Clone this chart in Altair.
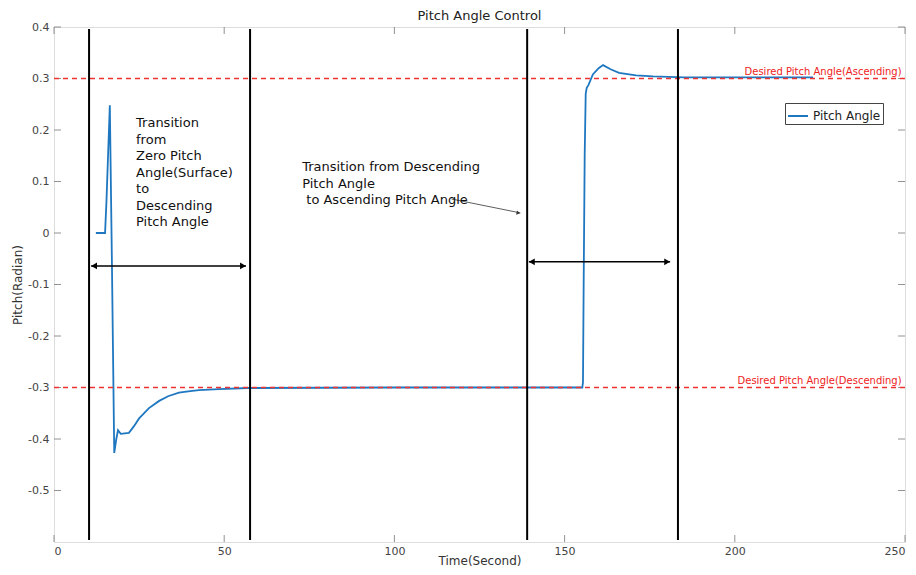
import altair as alt
import pandas as pd

# ---- data ----
time = [12.3, 15.0, 15.4, 16.4, 17.0, 17.7, 18.3, 18.8, 19.6, 20.8, 22.0, 23.5, 25.0,
        27.9, 30.9, 33.5, 36.7, 40.0, 42.6, 48.5, 57.0, 100.0, 155.2, 155.4, 155.6,
        155.9, 156.2, 156.5, 157.0, 158.3, 160.0, 161.3, 163.5, 166.0, 171.0, 176.0,
        185.0, 200.0, 223.0]
pitch = [0.0, 0.0, 0.06, 0.248, -0.05, -0.427, -0.40, -0.383, -0.39, -0.389, -0.388,
         -0.375, -0.360, -0.340, -0.326, -0.317, -0.310, -0.307, -0.305, -0.303, -0.301,
         -0.300, -0.300, -0.290, -0.10, 0.15, 0.270, 0.282, 0.287, 0.308, 0.320, 0.326,
         0.318, 0.311, 0.306, 0.304, 0.302, 0.302, 0.302]

desired_values = [0.3, -0.3]
desired_labels = ["Desired Pitch Angle(Ascending)", "Desired Pitch Angle(Descending)"]

boundary_times = [10.3, 57.6, 139.0, 183.3]
boundary_top = [0.396, 0.396, 0.396, 0.396]
boundary_bottom = [-0.596, -0.596, -0.596, -0.596]

arrow_y = [-0.064, -0.056]
arrow_start = [10.9, 139.5]
arrow_end = [56.4, 181.0]

note_texts = [
    "Transition\nfrom\nZero Pitch\nAngle(Surface)\nto\nDescending\nPitch Angle",
    "Transition from Descending\nPitch Angle\n\u200b to Ascending Pitch Angle",
]
note_x = [24.1, 72.9]
note_y = [0.225, 0.1398]

pointer_x = [116.8]
pointer_y = [0.066]
pointer_x2 = [137.0]
pointer_y2 = [0.039]

x_ticks = [0, 50, 100, 150, 200, 250]
y_ticks = [-0.5, -0.4, -0.3, -0.2, -0.1, 0, 0.1, 0.2, 0.3, 0.4]

W, H = 851, 515
FONT = "DejaVu Sans"

xs = alt.Scale(domain=[0, 250], nice=False, zero=False)
ys = alt.Scale(domain=[-0.6, 0.4], nice=False, zero=False)

curve_df = pd.DataFrame({"t": time, "p": pitch, "series": ["Pitch Angle"] * len(time)})
desired_df = pd.DataFrame({"v": desired_values, "label": desired_labels, "xl": [249.0, 249.0]})
bound_df = pd.DataFrame({"t": boundary_times, "top": boundary_top, "bot": boundary_bottom})
arrow_df = pd.DataFrame({"y": arrow_y, "x1": arrow_start, "x2": arrow_end})
note_df = pd.DataFrame({"text": note_texts, "x": note_x, "y": note_y})
pointer_df = pd.DataFrame({"x": pointer_x, "y": pointer_y, "x2": pointer_x2, "y2": pointer_y2})
xt_df = pd.DataFrame({"v": x_ticks})
yt_df = pd.DataFrame({"v": y_ticks})

x_axis = alt.Axis(values=x_ticks, grid=False, ticks=False, domain=False, labelPadding=3,
                  labelFontSize=11, labelColor="#444", labelFont=FONT,
                  title="Time(Second)", titleFontSize=12, titleFontWeight="normal",
                  titleColor="#333", titleFont=FONT, titleY=22, titleBaseline="alphabetic")
y_axis = alt.Axis(values=y_ticks, grid=False, ticks=False, domain=False, labelPadding=5,
                  labelFontSize=11, labelColor="#444", labelFont=FONT,
                  labelExpr="'' + datum.value",
                  title="Pitch(Radian)", titleFontSize=12, titleFontWeight="normal",
                  titleColor="#333", titleFont=FONT, titlePadding=3)

curve = alt.Chart(curve_df).mark_line(strokeWidth=1.8).encode(
    x=alt.X("t:Q", scale=xs, axis=x_axis),
    y=alt.Y("p:Q", scale=ys, axis=y_axis),
    color=alt.Color("series:N", scale=alt.Scale(range=["#1f77c0"]),
                    legend=alt.Legend(orient="none", legendX=731, legendY=76, title=None,
                                      strokeColor="#444", fillColor="white", padding=2,
                                      symbolType="stroke", symbolStrokeWidth=2,
                                      symbolSize=400, labelFontSize=12, labelFont=FONT,
                                      labelColor="#222", labelOffset=4)),
)

desired = alt.Chart(desired_df).mark_rule(color="#ee3333", strokeDash=[5, 4], strokeWidth=1.3).encode(
    y=alt.Y("v:Q", scale=ys),
)
desired_text = alt.Chart(desired_df).mark_text(
    color="#ee2222", fontSize=10, font=FONT, align="right", baseline="bottom", dy=-2
).encode(
    x=alt.X("xl:Q", scale=xs),
    y=alt.Y("v:Q", scale=ys),
    text="label:N",
)

bounds = alt.Chart(bound_df).mark_rule(color="black", strokeWidth=2).encode(
    x=alt.X("t:Q", scale=xs),
    y=alt.Y("top:Q", scale=ys),
    y2="bot:Q",
)

arrows = alt.Chart(arrow_df).mark_rule(color="black", strokeWidth=1.5).encode(
    x=alt.X("x1:Q", scale=xs),
    x2="x2:Q",
    y=alt.Y("y:Q", scale=ys),
)
head_left = alt.Chart(arrow_df).mark_point(shape="triangle-left", filled=True, color="black",
                                           size=45, opacity=1, xOffset=3).encode(
    x=alt.X("x1:Q", scale=xs),
    y=alt.Y("y:Q", scale=ys),
)
head_right = alt.Chart(arrow_df).mark_point(shape="triangle-right", filled=True, color="black",
                                            size=45, opacity=1, xOffset=-3).encode(
    x=alt.X("x2:Q", scale=xs),
    y=alt.Y("y:Q", scale=ys),
)

notes = alt.Chart(note_df).mark_text(
    align="left", baseline="top", fontSize=13, font=FONT, color="#111", lineHeight=16.5,
    lineBreak="\n"
).encode(
    x=alt.X("x:Q", scale=xs),
    y=alt.Y("y:Q", scale=ys),
    text="text:N",
)

pointer = alt.Chart(pointer_df).mark_rule(color="#333", strokeWidth=0.8).encode(
    x=alt.X("x:Q", scale=xs),
    x2="x2:Q",
    y=alt.Y("y:Q", scale=ys),
    y2="y2:Q",
)
pointer_head = alt.Chart(pointer_df).mark_point(shape="triangle-right", filled=True, color="#333",
                                                size=18, angle=11, opacity=1, xOffset=-2).encode(
    x=alt.X("x2:Q", scale=xs),
    y=alt.Y("y2:Q", scale=ys),
)

tick_color = "#777"
xt_bottom = alt.Chart(xt_df).mark_rule(color=tick_color, strokeWidth=0.8).encode(
    x=alt.X("v:Q", scale=xs), y=alt.value(H), y2=alt.value(H - 7))
xt_top = alt.Chart(xt_df).mark_rule(color=tick_color, strokeWidth=0.8).encode(
    x=alt.X("v:Q", scale=xs), y=alt.value(0), y2=alt.value(7))
yt_left = alt.Chart(yt_df).mark_rule(color=tick_color, strokeWidth=0.8).encode(
    y=alt.Y("v:Q", scale=ys), x=alt.value(0), x2=alt.value(7))
yt_right = alt.Chart(yt_df).mark_rule(color=tick_color, strokeWidth=0.8).encode(
    y=alt.Y("v:Q", scale=ys), x=alt.value(W), x2=alt.value(W - 7))

chart = alt.layer(
    curve,
    xt_bottom, xt_top, yt_left, yt_right,
    desired, bounds, arrows, head_left, head_right, pointer, pointer_head,
    desired_text, notes,
).properties(
    width=W, height=H,
    title=alt.Title("Pitch Angle Control", fontSize=13, fontWeight="normal", font=FONT,
                    color="#222", offset=0, dy=2),
    autosize=alt.AutoSizeParams(type="none"),
    padding={"left": 46, "top": 19, "right": 3, "bottom": 25},
).configure_view(
    stroke="#888", strokeWidth=1
).configure(background="white")

chart.save("out.html", embed_options={"renderer": "svg", "actions": False})
